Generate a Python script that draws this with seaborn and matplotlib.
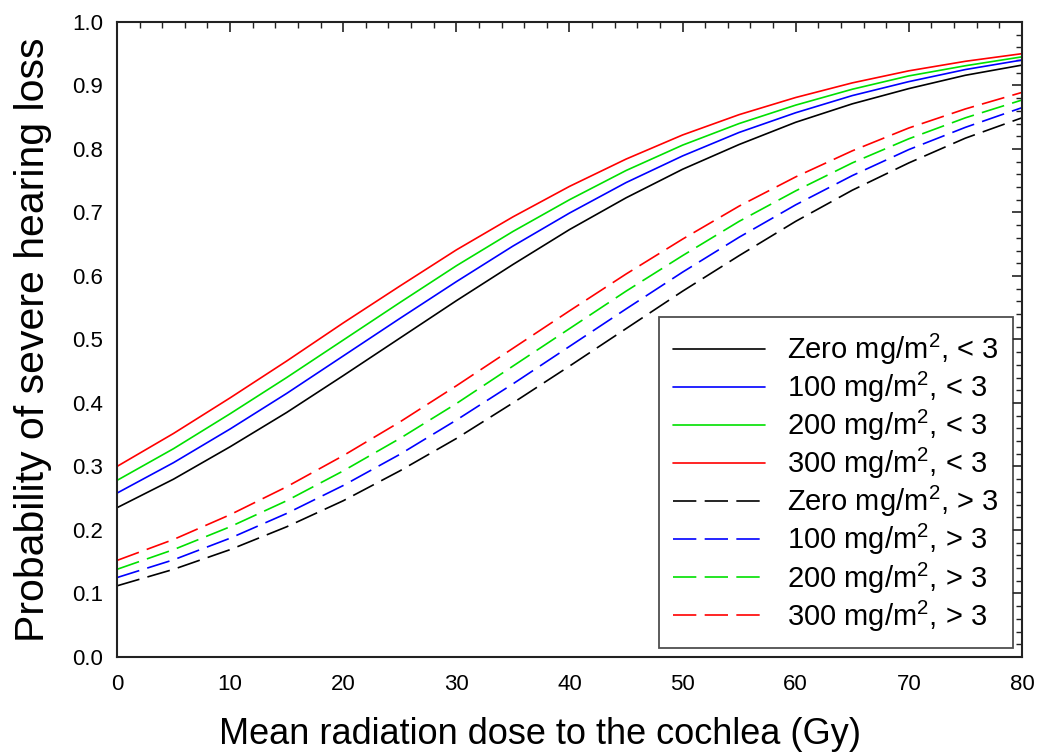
import matplotlib

matplotlib.use("Agg")
import matplotlib.pyplot as plt
import pandas as pd
import seaborn as sns
from matplotlib.ticker import FormatStrFormatter, MultipleLocator

# mean cochlear dose (Gy)
dose = [0, 5, 10, 15, 20, 25, 30, 35, 40, 45, 50, 55, 60, 65, 70, 75, 80]

# probability curves, solid = "< 3", dashed = "> 3"
zero_lt3 = [0.235, 0.280, 0.331, 0.385, 0.443, 0.502, 0.561, 0.618, 0.673, 0.723, 0.768, 0.807, 0.842, 0.871, 0.895, 0.916, 0.932]
p100_lt3 = [0.258, 0.306, 0.359, 0.415, 0.474, 0.533, 0.591, 0.647, 0.699, 0.747, 0.789, 0.826, 0.857, 0.884, 0.906, 0.925, 0.940]
p200_lt3 = [0.278, 0.328, 0.383, 0.440, 0.499, 0.558, 0.616, 0.670, 0.720, 0.766, 0.806, 0.840, 0.869, 0.894, 0.915, 0.931, 0.945]
p300_lt3 = [0.300, 0.352, 0.408, 0.466, 0.526, 0.584, 0.641, 0.693, 0.741, 0.784, 0.822, 0.854, 0.881, 0.904, 0.923, 0.938, 0.950]
zero_gt3 = [0.112, 0.138, 0.169, 0.205, 0.246, 0.293, 0.344, 0.400, 0.458, 0.517, 0.576, 0.632, 0.686, 0.735, 0.778, 0.817, 0.849]
p100_gt3 = [0.125, 0.153, 0.187, 0.226, 0.270, 0.319, 0.373, 0.430, 0.489, 0.548, 0.606, 0.661, 0.712, 0.758, 0.799, 0.834, 0.865]
p200_gt3 = [0.138, 0.169, 0.205, 0.246, 0.293, 0.344, 0.399, 0.458, 0.517, 0.576, 0.632, 0.686, 0.734, 0.778, 0.816, 0.849, 0.877]
p300_gt3 = [0.152, 0.185, 0.224, 0.268, 0.317, 0.370, 0.427, 0.486, 0.545, 0.603, 0.658, 0.710, 0.756, 0.797, 0.833, 0.863, 0.889]

series = [
    ("Zero mg/m$^2$, < 3", zero_lt3, "#000000", False),
    ("100 mg/m$^2$, < 3", p100_lt3, "#0000FF", False),
    ("200 mg/m$^2$, < 3", p200_lt3, "#00E000", False),
    ("300 mg/m$^2$, < 3", p300_lt3, "#FF0000", False),
    ("Zero mg/m$^2$, > 3", zero_gt3, "#000000", True),
    ("100 mg/m$^2$, > 3", p100_gt3, "#0000FF", True),
    ("200 mg/m$^2$, > 3", p200_gt3, "#00E000", True),
    ("300 mg/m$^2$, > 3", p300_gt3, "#FF0000", True),
]

sns.set_style("white")
plt.rcParams["font.family"] = ["Liberation Sans", "DejaVu Sans"]
plt.rcParams["mathtext.fontset"] = "custom"
plt.rcParams["mathtext.rm"] = "Liberation Sans"
plt.rcParams["text.color"] = "black"
plt.rcParams["axes.labelcolor"] = "black"
plt.rcParams["xtick.color"] = "black"
plt.rcParams["ytick.color"] = "black"

fig = plt.figure(figsize=(10.39, 7.56), dpi=100, facecolor="white")
ax = fig.add_axes([0.1126, 0.131, 0.871, 0.840])

for label, values, color, dashed in series:
    frame = pd.DataFrame({"dose": dose, "prob": values})
    sns.lineplot(data=frame, x="dose", y="prob", color=color, linewidth=1.2, label=label, ax=ax)
    if dashed:
        ax.lines[-1].set_dashes((14, 5))

ax.set_xlim(0, 80)
ax.set_ylim(0, 1.0)
ax.xaxis.set_major_locator(MultipleLocator(10))
ax.xaxis.set_minor_locator(MultipleLocator(2))
ax.yaxis.set_major_locator(MultipleLocator(0.1))
ax.yaxis.set_minor_locator(MultipleLocator(0.02))
ax.yaxis.set_major_formatter(FormatStrFormatter("%.1f"))
ax.tick_params(which="major", direction="in", length=7, width=1.2, top=True, right=True, color="#222222")
ax.tick_params(which="minor", direction="in", length=4, width=1.0, top=True, right=True, color="#222222")
ax.tick_params(axis="x", which="major", labelsize=16, pad=12)
ax.tick_params(axis="y", which="major", labelsize=16, pad=10)
for spine in ax.spines.values():
    spine.set_color("#222222")
    spine.set_linewidth(1.5)

ax.set_xlabel("Mean radiation dose to the cochlea (Gy)", fontsize=26)
ax.set_ylabel("Probability of severe hearing loss", fontsize=29.5)
ax.xaxis.set_label_coords(0.467, -0.095)
ax.yaxis.set_label_coords(-0.072, 0.5)

leg = ax.legend(
    loc="lower right",
    fontsize=21,
    frameon=True,
    fancybox=False,
    edgecolor="#222222",
    handlelength=3.15,
    handletextpad=0.75,
    labelspacing=0.1,
    borderpad=0.5,
    borderaxespad=0.3,
)
leg.get_frame().set_linewidth(1.3)
for text in leg.get_texts():
    text.set_color("black")

plt.savefig("out.png", dpi=100, facecolor="white")
plt.close()
